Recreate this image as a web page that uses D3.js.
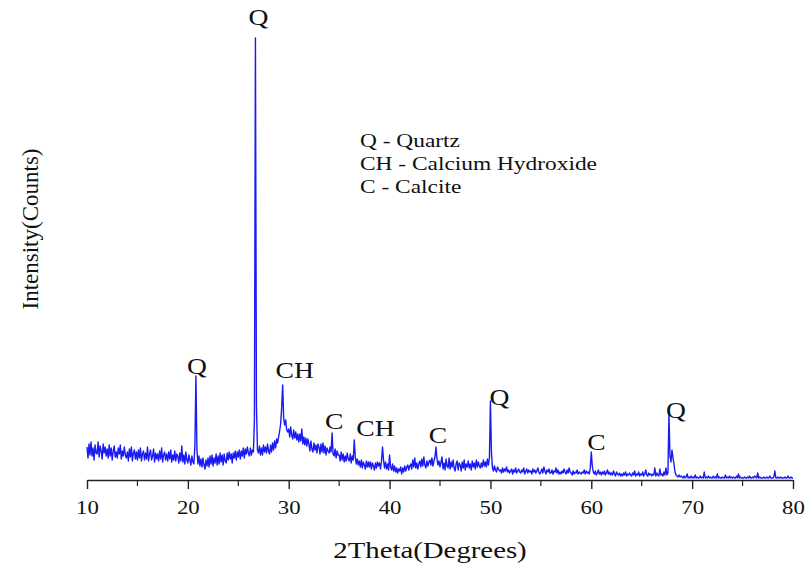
<!DOCTYPE html>
<html>
<head>
<meta charset="utf-8">
<script src="https://cdn.jsdelivr.net/npm/d3@7"></script>
<style>
  body { margin: 0; background: #fff; }
  text { font-family: "Liberation Serif", "Times New Roman", serif; fill: #111; }
</style>
</head>
<body>
<div id="chart"></div>
<script>
// scan grid: 10.0 to 80.0 deg, step 0.1
const scanStart = 10;
const scanStep = 0.1;

// intensity (counts), one row per degree
const counts = [
  33,22,36,25,38,24,32,20,35,27,
  26,38,23,34,29,21,36,27,33,24,
  31,22,35,24,32,20,29,34,23,28,
  22,32,26,35,21,29,24,33,25,22,
  28,19,31,23,33,19,27,30,21,28,
  20,30,22,32,19,26,29,20,27,21,
  33,19,26,30,20,24,31,18,27,21,
  26,19,29,21,32,18,25,28,20,26,
  19,28,21,30,18,25,20,29,19,26,
  24,17,27,19,34,18,25,16,28,20,
  17,25,20,15,24,18,16,35,104,30,
  16,24,14,21,13,22,15,11,20,14,
  22,13,24,16,25,14,22,17,26,15,
  24,16,27,18,25,15,26,19,17,27,
  20,28,21,26,17,27,22,29,20,28,
  23,30,21,29,24,32,22,31,26,33,
  27,24,32,25,30,28,60,442,75,30,
  27,34,25,32,25,35,28,33,27,36,
  29,26,35,28,37,30,39,32,41,37,
  43,49,56,72,95,62,55,60,50,48,
  51,43,53,45,41,50,42,48,40,46,
  38,46,39,51,36,43,35,42,34,41,
  36,29,39,31,28,37,30,35,27,36,
  33,26,36,28,37,27,34,25,32,29,
  27,33,28,47,26,24,31,22,29,25,
  25,19,28,20,26,18,24,19,27,21,
  19,26,17,24,20,40,23,16,21,15,
  19,13,20,12,18,15,11,19,13,18,
  13,18,11,17,14,10,17,12,18,14,
  17,11,19,33,20,12,18,11,16,10,
  25,13,10,16,9,14,8,12,7,11,
  9,13,6,12,8,14,9,13,15,10,
  14,16,11,20,13,22,12,17,11,16,
  19,13,21,14,23,15,12,19,14,18,
  20,15,22,14,19,23,33,21,15,19,
  13,18,23,11,17,10,21,14,12,22,
  11,18,13,20,12,9,16,19,10,17,
  15,9,18,12,20,10,16,13,19,12,
  16,10,19,13,17,11,20,13,18,14,
  12,17,13,20,14,18,13,21,15,22,
  79,28,12,9,14,10,8,13,11,9,
  10,7,12,8,11,9,13,8,10,7,
  9,11,6,10,8,12,7,9,11,8,
  7,10,8,12,6,9,11,7,10,8,
  9,6,11,8,10,7,9,12,8,6,
  8,11,7,13,9,6,10,8,11,7,
  7,10,6,9,8,12,7,10,6,8,
  6,9,7,11,8,6,10,7,12,8,
  7,5,9,6,8,7,10,6,8,7,
  6,8,7,10,6,9,7,8,6,12,
  28,14,8,6,9,5,7,10,6,8,
  5,8,6,9,5,7,10,6,8,5,
  7,5,9,6,4,8,6,5,7,4,
  6,4,7,5,8,4,6,5,7,5,
  4,7,5,9,4,6,5,8,4,6,
  5,8,4,6,10,5,4,7,5,6,
  4,6,5,12,4,7,5,4,11,5,
  6,4,8,5,12,5,7,66,24,18,
  30,22,16,8,5,4,3,5,3,4,
  3,2,4,2,3,6,2,3,2,4,
  2,3,2,5,2,3,2,2,4,2,
  3,2,8,2,3,2,4,2,3,2,
  2,4,2,3,2,6,2,3,2,2,
  3,2,2,5,2,3,2,4,2,3,
  2,3,2,2,4,2,6,2,3,2,
  2,2,3,2,2,3,2,4,2,2,
  3,2,4,3,2,7,2,3,2,2,
  2,3,2,2,3,2,2,4,2,2,
  2,3,9,2,2,3,2,2,3,2,
  2,2,3,2,2,4,2,2,3,2,
  2
];

// peak labels and where they sit (2theta, counts)
const peakLabels = ['Q', 'Q', 'CH', 'C', 'CH', 'C', 'Q', 'C', 'Q'];
const labelTheta = [20.9, 27.0, 30.6, 34.5, 38.6, 44.8, 50.9, 60.5, 68.4];
const labelCounts = [106, 455, 102, 51, 44, 37, 75, 30, 62];

const legendLines = ['Q - Quartz', 'CH - Calcium Hydroxide', 'C - Calcite'];
const xTicks = [10, 20, 30, 40, 50, 60, 70, 80];
const xMinorTicks = [15, 25, 35, 45, 55, 65, 75];

const width = 805, height = 567;
const stretch = 1.2; // text in the source is a bit wide

const svg = d3.select('#chart').append('svg')
    .attr('width', width)
    .attr('height', height);

const x = d3.scaleLinear().domain([10, 80]).range([87, 793]);
const y = d3.scaleLinear().domain([0, 450]).range([480, 30]);

const data = counts.map((c, i) => ({ t: scanStart + i * scanStep, c: c }));

// pattern
const line = d3.line()
    .x(d => x(d.t))
    .y(d => y(d.c));

svg.append('path')
    .datum(data)
    .attr('fill', 'none')
    .attr('stroke', '#1a1af5')
    .attr('stroke-width', 1.4)
    .attr('stroke-linejoin', 'round')
    .attr('d', line);

// x axis
const xAxis = svg.append('g')
    .attr('transform', `translate(0,${y(0)})`)
    .call(d3.axisBottom(x).tickValues(xTicks).tickSize(9).tickSizeOuter(0).tickFormat(d3.format('d')));

xAxis.select('.domain').attr('stroke', '#222').attr('stroke-width', 1.6);
xAxis.selectAll('.tick line').attr('stroke', '#222').attr('stroke-width', 1.4);
xAxis.selectAll('.tick text')
    .attr('y', 21)
    .attr('dy', '0.71em')
    .attr('transform', `scale(${stretch},1)`)
    .style('font-size', '19px')
    .style('font-family', '"Liberation Serif", serif')
    .attr('fill', '#111');

svg.append('g')
    .attr('transform', `translate(0,${y(0)})`)
    .selectAll('line')
    .data(xMinorTicks)
    .join('line')
    .attr('x1', d => x(d)).attr('x2', d => x(d))
    .attr('y1', 0).attr('y2', 6)
    .attr('stroke', '#222')
    .attr('stroke-width', 1.2);

// helper for horizontally stretched text
function wideText(sel, px, py, size, anchor) {
    return sel.append('text')
        .attr('transform', `translate(${px},${py}) scale(${stretch},1)`)
        .attr('text-anchor', anchor || 'start')
        .style('font-size', size + 'px');
}

// peak labels
peakLabels.forEach((lab, i) => {
    wideText(svg, x(labelTheta[i]), y(labelCounts[i]), 23, 'middle').text(lab);
});

// legend
legendLines.forEach((s, i) => {
    wideText(svg, 360, 147 + i * 23, 19.5, 'start').text(s);
});

// axis titles
wideText(svg, 430, 558, 24, 'middle').text('2Theta(Degrees)');

svg.append('text')
    .attr('transform', 'translate(38,229) rotate(-90)')
    .attr('text-anchor', 'middle')
    .style('font-size', '23px')
    .text('Intensity(Counts)');
</script>
</body>
</html>
